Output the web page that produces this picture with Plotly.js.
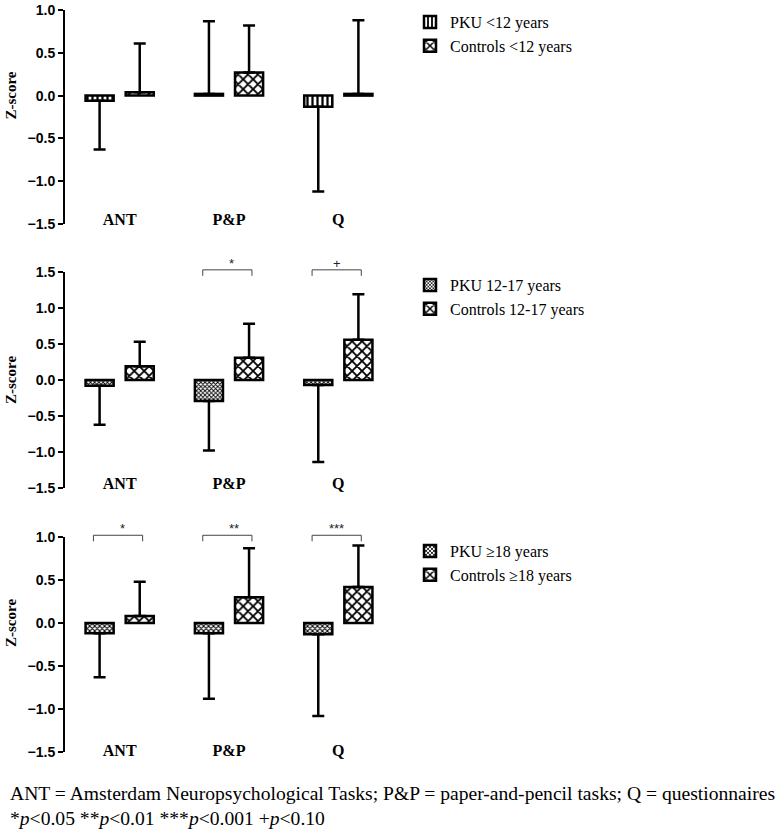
<!DOCTYPE html>
<html>
<head>
<meta charset="utf-8">
<script src="https://cdn.plot.ly/plotly-3.0.1.min.js"></script>
<style>html,body{margin:0;padding:0;background:#fff;}</style>
</head>
<body>
<div id="chart" style="width:780px;height:833px;"></div>
<script>
// ---------- data ----------
const categories = ['ANT', 'P&amp;P', 'Q'];

// Panel 1: < 12 years
const pkuName1 = 'PKU &lt;12 years';
const ctlName1 = 'Controls &lt;12 years';
const pku1 = [-0.06, 0.02, -0.13];
const pku1Err = [0.57, 0.85, 0.99];
const ctl1 = [0.04, 0.27, 0.02];
const ctl1Err = [0.57, 0.55, 0.86];
const sig1 = ['', '', ''];

// Panel 2: 12-17 years
const pkuName2 = 'PKU 12-17 years';
const ctlName2 = 'Controls 12-17 years';
const pku2 = [-0.08, -0.29, -0.07];
const pku2Err = [0.54, 0.69, 1.07];
const ctl2 = [0.19, 0.31, 0.56];
const ctl2Err = [0.34, 0.47, 0.63];
const sig2 = ['', '*', '+'];

// Panel 3: >= 18 years
const pkuName3 = 'PKU ≥18 years';
const ctlName3 = 'Controls ≥18 years';
const pku3 = [-0.12, -0.12, -0.13];
const pku3Err = [0.51, 0.76, 0.95];
const ctl3 = [0.08, 0.30, 0.42];
const ctl3Err = [0.40, 0.57, 0.48];
const sig3 = ['*', '**', '***'];

const yTickVals1 = [-1.5, -1.0, -0.5, 0.0, 0.5, 1.0];
const yTickVals2 = [-1.5, -1.0, -0.5, 0.0, 0.5, 1.0, 1.5];

const footnote1 = 'ANT = Amsterdam Neuropsychological Tasks; P&amp;P = paper-and-pencil tasks; Q = questionnaires';
const footnote2 = '*<i>p</i>&lt;0.05 **<i>p</i>&lt;0.01 ***<i>p</i>&lt;0.001 +<i>p</i>&lt;0.10';

// ---------- layout helpers ----------
const W = 780, H = 833;
const fy = px => 1 - px / H;
const xDom = [65 / W, 393 / W];
const xRange = [-0.5, 2.5];
const panels = [
  {top: 10, bottom: 224, range: [-1.5, 1.0], ticks: yTickVals1, labelPx: 208, legTop: 5,
   pku: pku1, pkuErr: pku1Err, ctl: ctl1, ctlErr: ctl1Err, sig: sig1,
   pkuName: pkuName1, ctlName: ctlName1, pkuPat: {shape: '|', size: 5, solidity: 0.45},
   brY: 1.0},
  {top: 272, bottom: 488, range: [-1.5, 1.5], ticks: yTickVals2, labelPx: 472, legTop: 268,
   pku: pku2, pkuErr: pku2Err, ctl: ctl2, ctlErr: ctl2Err, sig: sig2,
   pkuName: pkuName2, ctlName: ctlName2, pkuPat: {shape: 'x', size: 3, solidity: 0.5},
   brY: 1.53},
  {top: 537, bottom: 752, range: [-1.5, 1.0], ticks: yTickVals1, labelPx: 739, legTop: 534,
   pku: pku3, pkuErr: pku3Err, ctl: ctl3, ctlErr: ctl3Err, sig: sig3,
   pkuName: pkuName3, ctlName: ctlName3, pkuPat: {shape: 'x', size: 3.5, solidity: 0.5},
   brY: 1.02}
];

const traces = [];
const layout = {
  width: W, height: H, autosize: false,
  margin: {l: 0, r: 0, t: 0, b: 0},
  paper_bgcolor: '#fff', plot_bgcolor: 'rgba(0,0,0,0)',
  barmode: 'group', bargap: 0.266, bargroupgap: 0.3,
  showlegend: true,
  annotations: [], shapes: []
};

const errUp = (v, e) => v.map((d, i) => d >= 0 ? e[i] : 0);
const errDown = (v, e) => v.map((d, i) => d < 0 ? e[i] : 0);

panels.forEach((p, k) => {
  const n = k + 1;
  const sfx = n === 1 ? '' : String(n);
  const xa = 'x' + sfx, ya = 'y' + sfx;
  const ovN = n + 3;
  const legName = n === 1 ? 'legend' : 'legend' + n;
  const yDom = [fy(p.bottom), fy(p.top)];
  const yToPaper = v => yDom[0] + (v - p.range[0]) / (p.range[1] - p.range[0]) * (yDom[1] - yDom[0]);
  const xToPaper = v => xDom[0] + (v - xRange[0]) / (xRange[1] - xRange[0]) * (xDom[1] - xDom[0]);

  const common = {
    type: 'bar', x: categories, xaxis: xa, yaxis: ya, legend: legName,
    hoverinfo: 'skip'
  };
  traces.push(Object.assign({}, common, {
    name: p.pkuName, y: p.pku,
    marker: {color: '#fff', line: {color: '#000', width: 2.5},
             pattern: Object.assign({fgcolor: '#000', bgcolor: '#fff', fillmode: 'replace'}, p.pkuPat)},
    error_y: {type: 'data', symmetric: false, array: errUp(p.pku, p.pkuErr),
              arrayminus: errDown(p.pku, p.pkuErr), color: '#000', thickness: 2.5, width: 6}
  }));
  traces.push(Object.assign({}, common, {
    name: p.ctlName, y: p.ctl,
    marker: {color: '#fff', line: {color: '#000', width: 2.5},
             pattern: {shape: 'x', size: 7, solidity: 0.45, fgcolor: '#000', bgcolor: '#fff', fillmode: 'replace'}},
    error_y: {type: 'data', symmetric: false, array: errUp(p.ctl, p.ctlErr),
              arrayminus: errDown(p.ctl, p.ctlErr), color: '#000', thickness: 2.5, width: 6}
  }));

  // category label axis
  layout['xaxis' + sfx] = {
    domain: xDom, anchor: 'free', position: fy(p.labelPx),
    type: 'category', range: xRange, fixedrange: true,
    showline: false, showgrid: false, zeroline: false, ticks: '',
    tickfont: {family: 'Liberation Serif', size: 16, color: '#000', weight: 'bold'}
  };
  // y axis
  layout['yaxis' + sfx] = {
    domain: yDom, anchor: xa, range: p.range, fixedrange: true,
    showline: true, linecolor: '#000', linewidth: 2,
    ticks: 'outside', ticklen: 5, tickwidth: 2, tickcolor: '#000',
    tickvals: p.ticks, tickformat: '.1f',
    showgrid: false, zeroline: false,
    tickfont: {family: 'Liberation Sans', size: 14, color: '#000', weight: 'bold'}
  };
  // zero-level axis with category ticks
  layout['xaxis' + ovN] = {
    domain: xDom, overlaying: xa, anchor: 'free', position: yToPaper(0),
    type: 'linear', range: xRange, fixedrange: true,
    showline: true, linecolor: '#000', linewidth: 2,
    ticks: 'outside', ticklen: 5, tickwidth: 2, tickcolor: '#000',
    tickvals: [0, 1, 2], showticklabels: false, showgrid: false, zeroline: false
  };

  // legend
  layout[legName] = {
    x: 410 / W, xanchor: 'left', y: fy(p.legTop), yanchor: 'top',
    bgcolor: 'rgba(0,0,0,0)', borderwidth: 0, traceorder: 'normal',
    font: {family: 'Liberation Serif', size: 16, color: '#000'},
    itemclick: false, itemdoubleclick: false
  };

  // y title
  layout.annotations.push({
    xref: 'paper', yref: 'paper', x: 11 / W, y: yToPaper(0), xanchor: 'center', yanchor: 'middle',
    text: 'Z-score', textangle: -90, showarrow: false,
    font: {family: 'Liberation Serif', size: 15, color: '#000', weight: 'bold'}
  });

  // significance brackets
  const pxPerUnit = (p.bottom - p.top) / (p.range[1] - p.range[0]);
  const drop = 6 / pxPerUnit;
  p.sig.forEach((s, i) => {
    if (!s) return;
    const a = xToPaper(i - 0.24), b = xToPaper(i + 0.21);
    const yt = yToPaper(p.brY), yb = yToPaper(p.brY - drop);
    layout.shapes.push({
      type: 'path', xref: 'paper', yref: 'paper',
      path: `M ${a},${yb} L ${a},${yt} L ${b},${yt} L ${b},${yb}`,
      line: {color: '#444', width: 1}
    });
    layout.annotations.push({
      xref: 'paper', yref: 'paper', x: xToPaper(i - 0.015), y: yt, yanchor: 'bottom', yshift: -3,
      text: s, showarrow: false,
      font: {family: 'Liberation Sans', size: 13, color: '#222'}
    });
  });
});

// footnote (two lines in one text block)
layout.annotations.push({
  xref: 'paper', yref: 'paper', x: 8 / W, y: fy(781), xanchor: 'left', yanchor: 'top',
  align: 'left', showarrow: false, text: footnote1 + '<br>' + footnote2,
  font: {family: 'Liberation Serif', size: 19.6, color: '#000'}
});

Plotly.newPlot('chart', traces, layout, {staticPlot: true, displayModeBar: false});
</script>
</body>
</html>
